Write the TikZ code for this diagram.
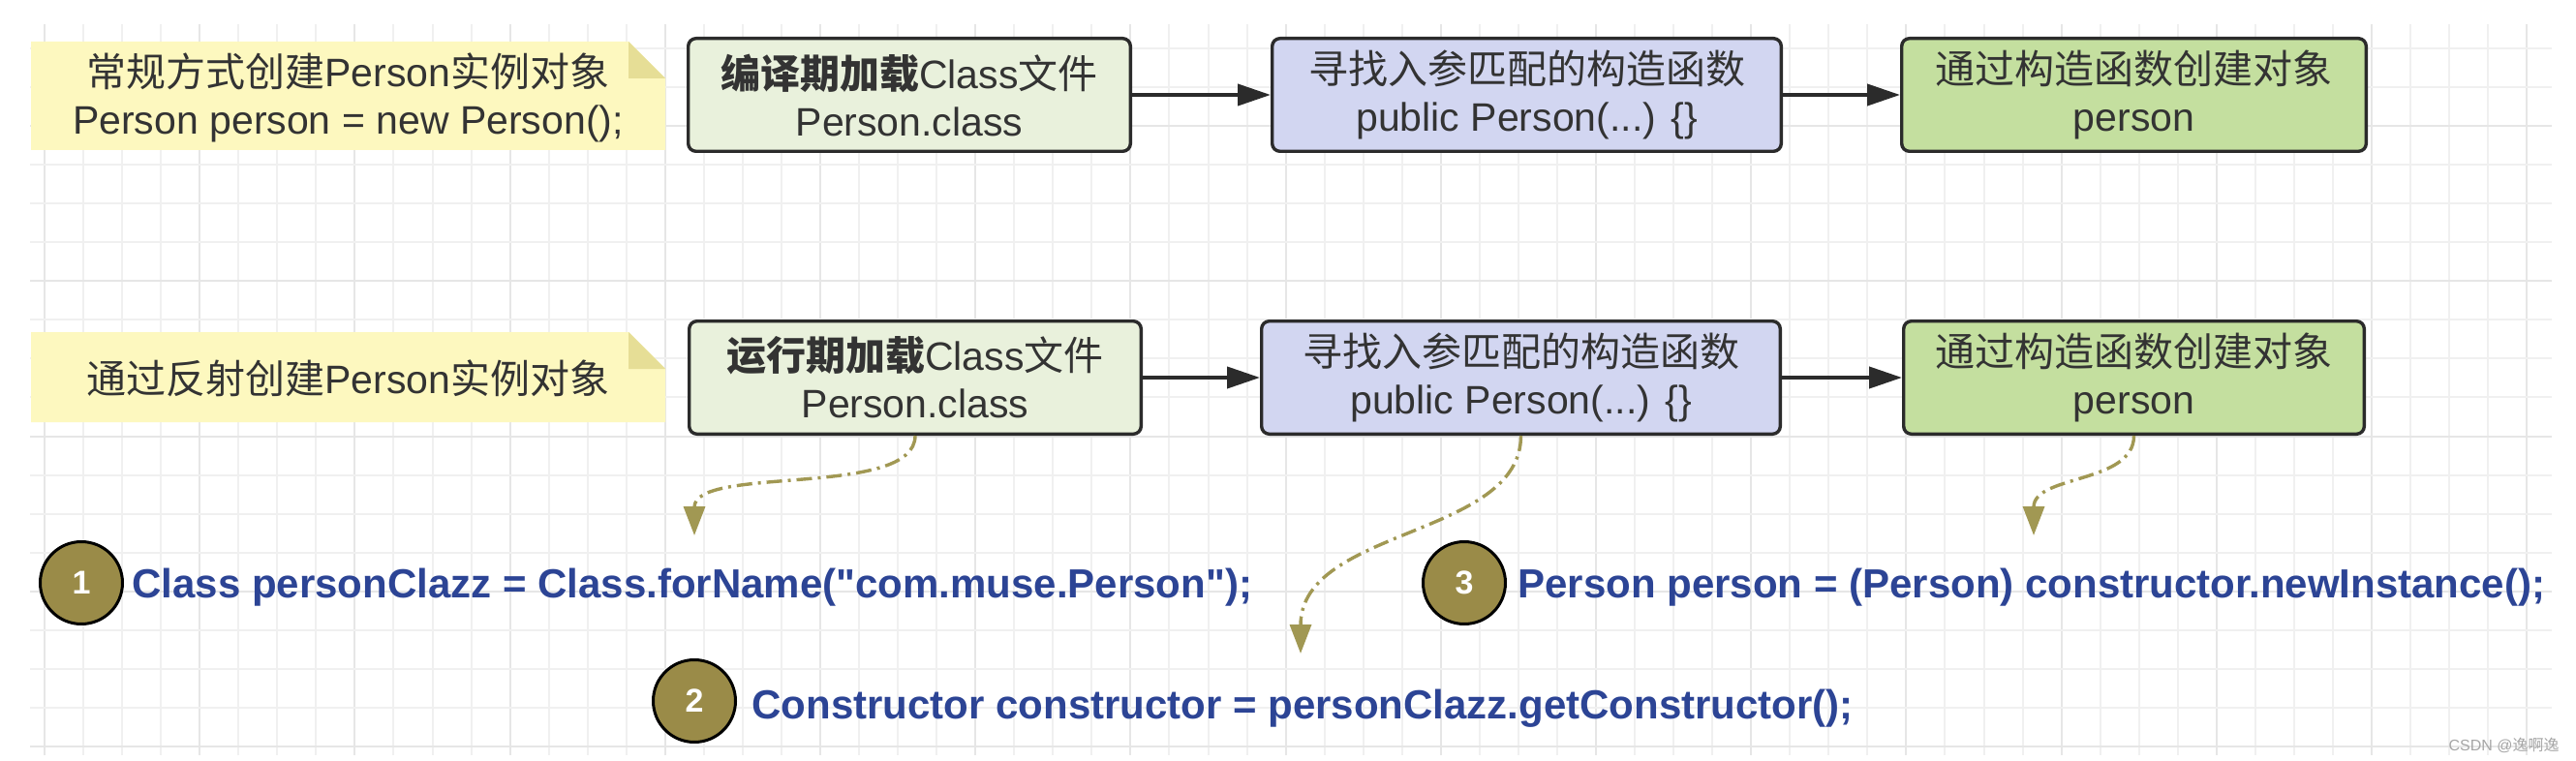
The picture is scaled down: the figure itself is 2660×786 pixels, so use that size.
\documentclass[tikz,border=0pt]{standalone}
\usepackage{fontspec}
\setmainfont{Liberation Sans}
\newfontfamily\cjk{Noto Sans CJK SC}
\newfontfamily\codefont{Liberation Sans}[Ligatures=TeXOff]
\usetikzlibrary{arrows.meta}
\definecolor{gridminor}{HTML}{F0F0F0}
\definecolor{gridmajor}{HTML}{E6E6E6}
\definecolor{notefill}{HTML}{FDF8BF}
\definecolor{notefold}{HTML}{E6DE96}
\definecolor{paleg}{HTML}{E9F1DC}
\definecolor{lav}{HTML}{D2D6F1}
\definecolor{grn}{HTML}{C4DF9F}
\definecolor{bord}{HTML}{2B2B2B}
\definecolor{txt}{HTML}{333333}
\definecolor{olive}{HTML}{9A8B48}
\definecolor{olivel}{HTML}{A19853}
\definecolor{codeblue}{HTML}{2C4495}
\tikzset{
  box/.style={draw=bord, line width=1.7pt, rounded corners=4pt, minimum height=58.3pt,
    inner sep=0pt, align=center, text=txt, font=\fontsize{20.5}{24.5}\selectfont},
  flow/.style={line width=2pt, draw=bord, -{Triangle[length=17pt,width=11pt]}},
  num/.style={circle, draw=black, line width=1.5pt, fill=olive, minimum size=42.5pt,
    inner sep=0pt, text=white, font=\bfseries\fontsize{17}{17}\selectfont},
  code/.style={anchor=base west, inner sep=0pt, text=codeblue,
    font=\codefont\bfseries\fontsize{21}{21}\selectfont},
  link/.style={draw=olivel, line width=1.7pt, dash pattern=on 8pt off 3pt on 1.5pt off 3pt,
    -{Triangle[length=15pt,width=11pt]}},
  notetext/.style={align=center, text=txt, inner sep=0pt, font=\fontsize{20.5}{24.5}\selectfont},
}
\begin{document}
\begin{tikzpicture}[x=0.5pt,y=-0.5pt]
\useasboundingbox (0,0) rectangle (2660,786);
\fill[white] (0,0) rectangle (2660,786);
% grid
\foreach \k in {0,...,64}{
  \pgfmathtruncatemacro{\m}{mod(\k,4)}
  \ifnum\m=0
    \draw[gridmajor, line width=1pt] ({46+40.05*\k},25) -- ({46+40.05*\k},780);
  \else
    \draw[gridminor, line width=1pt] ({46+40.05*\k},25) -- ({46+40.05*\k},780);
  \fi
}
\foreach \k in {0,...,18}{
  \pgfmathtruncatemacro{\m}{mod(\k,4)}
  \ifnum\m=2
    \draw[gridmajor, line width=1pt] (31,{50+40.05*\k}) -- (2635,{50+40.05*\k});
  \else
    \draw[gridminor, line width=1pt] (31,{50+40.05*\k}) -- (2635,{50+40.05*\k});
  \fi
}
% notes
\fill[notefill] (32,43) -- (649,43) -- (687,81) -- (687,155) -- (32,155) -- cycle;
\fill[notefold] (649,43) -- (687,81) -- (649,81) -- cycle;
\fill[notefill] (32,343) -- (649,343) -- (687,381) -- (687,436) -- (32,436) -- cycle;
\fill[notefold] (649,343) -- (687,381) -- (649,381) -- cycle;
\node[notetext] (n1) at (359.5,101) {{\cjk 常规方式创建}Person{\cjk 实例对象}\\Person person = new Person();};
\node[notetext] (n2) at (359.5,391) {{\cjk 通过反射创建}Person{\cjk 实例对象}};
% boxes row 1
\node[box, fill=paleg, minimum width=228.3pt] (B1) at (939,98) {{\cjk\bfseries 编译期加载}Class{\cjk 文件}\\Person.class};
\node[box, fill=lav, minimum width=262.8pt] (B2) at (1576.5,98) {{\cjk 寻找入参匹配的构造函数}\\public Person(...) \{\}};
\node[box, fill=grn, minimum width=239.8pt] (B3) at (2203.5,98) {{\cjk 通过构造函数创建对象}\\person};
% boxes row 2
\node[box, fill=paleg, minimum width=233.3pt] (B4) at (945,390) {{\cjk\bfseries 运行期加载}Class{\cjk 文件}\\Person.class};
\node[box, fill=lav, minimum width=267.8pt] (B5) at (1570.5,390) {{\cjk 寻找入参匹配的构造函数}\\public Person(...) \{\}};
\node[box, fill=grn, minimum width=237.8pt] (B6) at (2203.5,390) {{\cjk 通过构造函数创建对象}\\person};
\draw[flow] (B1) -- (B2);
\draw[flow] (B2) -- (B3);
\draw[flow] (B4) -- (B5);
\draw[flow] (B5) -- (B6);
% numbered steps
\node[num] (c1) at (84,602) {1};
\node[num] (c2) at (717,724) {2};
\node[num] (c3) at (1512,602) {3};
\node[code] (t1) at (136,617) {Class personClazz = Class.forName("com.muse.Person");};
\node[code] (t2) at (776,742) {Constructor constructor = personClazz.getConstructor();};
\node[code] (t3) at (1567,617) {Person person = (Person) constructor.newInstance();};
% dash-dot links
\coordinate (e1) at (717,553);
\coordinate (e2) at (1343,675);
\coordinate (e3) at (2100,553);
\draw[link] (B4.south) .. controls +(0,65) and +(0,-73) .. (e1);
\draw[link] (B5.south) .. controls +(0,105) and +(0,-130) .. (e2);
\draw[link] (B6.south) .. controls +(0,50) and +(0,-63) .. (e3);
% watermark
\node[anchor=east, inner sep=0pt, text=gray!70, font=\fontsize{8}{8}\selectfont] (wm) at (2643,770) {CSDN @{\cjk 逸啊逸}};
\end{tikzpicture}
\end{document}
